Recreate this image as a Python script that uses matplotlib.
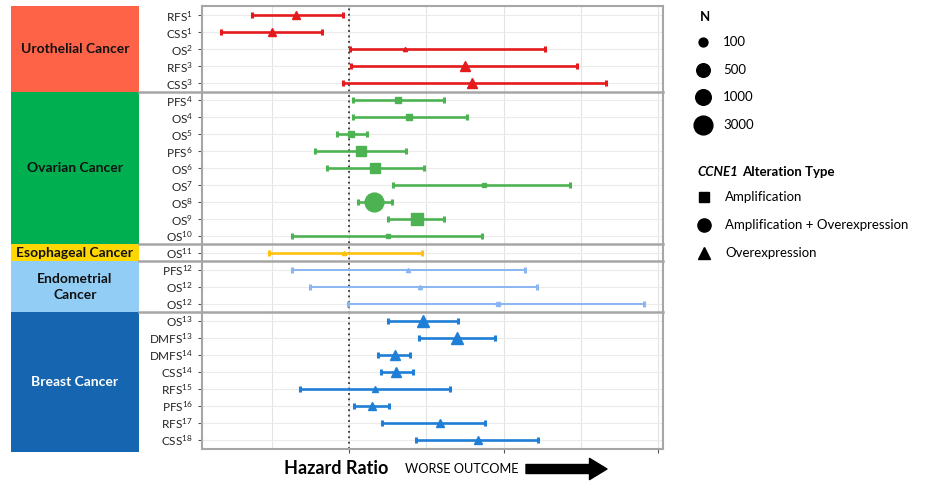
import numpy as np
import matplotlib
matplotlib.use("Agg")
import matplotlib.pyplot as plt
from matplotlib.patches import Rectangle
from matplotlib.lines import Line2D

plt.rcParams['font.family'] = ['Lato', 'DejaVu Sans']
plt.rcParams['mathtext.default'] = 'regular'

# rows, top to bottom
labels = ["RFS$^{1}$", "CSS$^{1}$", "OS$^{2}$", "RFS$^{3}$", "CSS$^{3}$",
          "PFS$^{4}$", "OS$^{4}$", "OS$^{5}$", "PFS$^{6}$", "OS$^{6}$", "OS$^{7}$",
          "OS$^{8}$", "OS$^{9}$", "OS$^{10}$",
          "OS$^{11}$",
          "PFS$^{12}$", "OS$^{12}$", "OS$^{12}$",
          "OS$^{13}$", "DMFS$^{13}$", "DMFS$^{14}$", "CSS$^{14}$", "RFS$^{15}$",
          "PFS$^{16}$", "RFS$^{17}$", "CSS$^{18}$"]
hr = [0.32, 0.01, 1.72, 2.50, 2.59,
      1.64, 1.78, 1.03, 1.16, 1.34, 2.74, 1.33, 1.88, 1.50,
      0.93,
      1.76, 1.92, 2.93,
      1.96, 2.40, 1.59, 1.61, 1.34, 1.30, 2.18, 2.67]
lo = [-0.26, -0.66, 1.01, 1.03, 0.92,
      1.05, 1.05, 0.84, 0.56, 0.72, 1.57, 1.12, 1.51, 0.27,
      -0.04,
      0.26, 0.49, 0.99,
      1.51, 1.91, 1.38, 1.41, 0.37, 1.07, 1.43, 1.87]
hi = [0.92, 0.65, 3.54, 3.95, 4.32,
      2.23, 2.52, 1.23, 1.74, 1.97, 3.86, 1.56, 2.23, 2.72,
      1.94,
      3.27, 3.43, 4.81,
      2.41, 2.89, 1.79, 1.83, 2.30, 1.52, 2.76, 3.45]
n_pts = [100, 100, 20, 150, 150,
         50, 50, 50, 150, 150, 25, 3000, 400, 25,
         20,
         20, 20, 20,
         300, 400, 150, 150, 50, 75, 75, 75]
# A = amplification, AO = amplification + overexpression, O = overexpression
alt_type = ["O", "O", "O", "O", "O",
            "A", "A", "A", "A", "A", "A", "AO", "A", "A",
            "O",
            "O", "O", "A",
            "O", "O", "O", "O", "O", "O", "O", "O"]

groups = ["Urothelial Cancer", "Ovarian Cancer", "Esophageal Cancer",
          "Endometrial\nCancer", "Breast Cancer"]
group_rows = [5, 9, 1, 3, 8]
group_box = ["#FF6347", "#00B050", "#FFD700", "#92CDF6", "#1565B0"]
group_text = ["#111111", "#111111", "#111111", "#111111", "white"]
group_line = ["#E41A1C", "#4DB352", "#FFC20E", "#8AB6F2", "#1F7FD6"]
group_lw = [1.9, 1.9, 1.9, 1.4, 1.9]

legend_n = [100, 500, 1000, 3000]
legend_types = ["Amplification", "Amplification + Overexpression", "Overexpression"]

shape = {"A": "s", "AO": "o", "O": "^"}


def size_pt(n):
    # marker diameter grows with log N (pixels -> points)
    return (6.7 * np.log10(n) - 4.5) * 0.72


fig = plt.figure(figsize=(9.28, 4.83), dpi=100)
ax = fig.add_axes([202 / 928, 1 - 449 / 483, 461 / 928, 443 / 483])

nrow = len(labels)
y = np.arange(nrow)
ax.set_ylim(nrow - 0.47, -0.53)
ax.set_xlim(-0.9, 5.06)

for g in range(6):
    ax.axvline(g, color="#E3E3E3", lw=0.8, zorder=0)
for r in y:
    ax.axhline(r, color="#EBEBEB", lw=0.8, zorder=0)
ax.axvline(1, color="#333333", lw=1.3, ls=(0, (1, 2)), zorder=1)

grp_of_row = np.repeat(np.arange(len(groups)), group_rows)
for r in y:
    g = grp_of_row[r]
    c = group_line[g]
    ax.errorbar(hr[r], r, xerr=[[hr[r] - lo[r]], [hi[r] - hr[r]]], fmt="none",
                ecolor=c, elinewidth=group_lw[g], capsize=2, capthick=2.2, zorder=3)
    ax.plot(hr[r], r, marker=shape[alt_type[r]], ms=size_pt(n_pts[r]),
            color=c, mec=c, ls="none", zorder=4)

ax.set_yticks(y)
ax.set_yticklabels(labels, fontsize=8.5, color="#222222")
ax.set_xticks([1, 3, 5])
ax.set_xticklabels([])
ax.tick_params(axis="both", length=3, color="#555555", width=0.8)
for s in ax.spines.values():
    s.set_color("#A6A6A6")
    s.set_linewidth(1.5)

# group boxes and separators
trans = ax.get_yaxis_transform()
x0, x1 = (11 - 202) / 461, (139 - 202) / 461
start = -0.53
for g, nr in enumerate(group_rows):
    if g == 0:
        top, bot = -0.53, 4.5
    else:
        top, bot = start, start + nr
    if g == len(groups) - 1:
        bot = nrow - 0.3
    ax.add_patch(Rectangle((x0, top), x1 - x0, bot - top, transform=trans,
                           facecolor=group_box[g], edgecolor="none", clip_on=False, zorder=0))
    ax.text((x0 + x1) / 2, (top + bot) / 2, groups[g], transform=trans, ha="center",
            va="center", fontsize=10, fontweight="bold", color=group_text[g],
            linespacing=1.35)
    if g < len(groups) - 1:
        ax.plot([x1, 1], [bot, bot], transform=trans, color="#A6A6A6", lw=1.8,
                clip_on=False, zorder=5)
    start = bot

# bottom labels
fig.text(336 / 928, 1 - 469 / 483, "Hazard Ratio", ha="center", va="center",
         fontsize=13, fontweight="bold")
fig.text(405 / 928, 1 - 469 / 483, "WORSE OUTCOME", ha="left", va="center", fontsize=9.2)
ax.annotate("", xy=(607 / 928, 1 - 469 / 483), xytext=(526 / 928, 1 - 469 / 483),
            xycoords="figure fraction", textcoords="figure fraction",
            arrowprops=dict(arrowstyle="simple,head_length=0.7,head_width=0.85,tail_width=0.36",
                            color="black", mutation_scale=18, shrinkA=0, shrinkB=0))

# legend: N
fig.text(700 / 928, 1 - 17 / 483, "N", fontsize=9.5, fontweight="bold", va="center")
leg_y = [42, 70, 97, 125]
for n, yy in zip(legend_n, leg_y):
    fig.add_artist(Line2D([703 / 928], [1 - yy / 483], marker="o", ms=size_pt(n),
                          color="black", ls="none"))
    fig.text(723 / 928, 1 - yy / 483, str(n), fontsize=9.5, va="center")

# legend: alteration type
t1 = fig.text(697 / 928, 1 - 172 / 483, "CCNE1", fontsize=9.5, fontweight="bold",
              fontstyle="italic", va="center")
fig.canvas.draw()
bb = t1.get_window_extent()
fig.text(bb.x1 / 928 + 4 / 928, 1 - 172 / 483, "Alteration Type", fontsize=9.5,
         fontweight="bold", va="center")
type_y = [197, 225, 253]
type_ms = [7.5, 9.5, 9.0]
for t, m, yy, msz in zip(legend_types, ["s", "o", "^"], type_y, type_ms):
    fig.add_artist(Line2D([704 / 928], [1 - yy / 483], marker=m, ms=msz,
                          color="black", ls="none"))
    fig.text(725 / 928, 1 - yy / 483, t, fontsize=9.5, va="center")

fig.savefig("out.png", dpi=100)
